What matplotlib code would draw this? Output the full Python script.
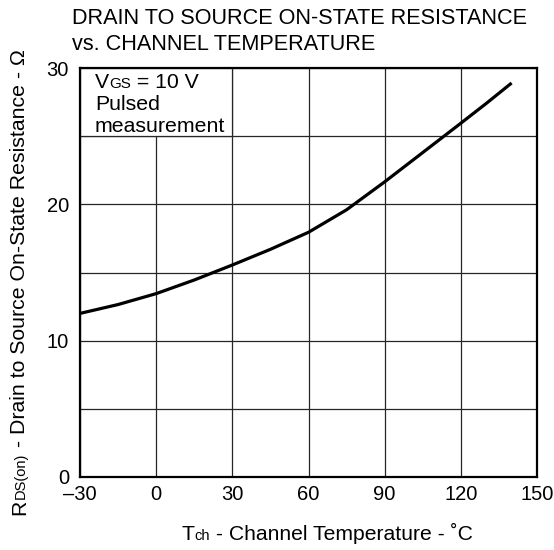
import matplotlib
matplotlib.use("Agg")
import matplotlib.pyplot as plt
from matplotlib.patches import Rectangle

plt.rcParams["font.family"] = ["Liberation Sans", "DejaVu Sans"]

# datos
temp_ch = [-30, -15, 0, 15, 30, 45, 60, 75, 90, 105, 120, 130, 140]
r_on = [12.0, 12.65, 13.45, 14.45, 15.55, 16.7, 17.95, 19.6, 21.65, 23.8, 25.95, 27.4, 28.9]
x_ticks = [-30, 0, 30, 60, 90, 120, 150]
x_tick_labels = ["\u201330", "0", "30", "60", "90", "120", "150"]
y_ticks = [0, 10, 20, 30]
y_minor = [5, 15, 25]

W, H = 554, 550
fig = plt.figure(figsize=(W / 100, H / 100), dpi=100)
ax = fig.add_axes([80 / W, 73 / H, 457 / W, 409 / H])

ax.plot(temp_ch, r_on, color="black", lw=2.3, zorder=3, solid_capstyle="butt")
ax.set_xlim(-30, 150)
ax.set_ylim(0, 30)
ax.set_xticks(x_ticks)
ax.set_xticklabels(x_tick_labels)
ax.set_yticks(y_ticks)
ax.set_yticks(y_minor, minor=True)
ax.tick_params(which="both", length=0, labelsize=14.5)
ax.tick_params(axis="x", pad=6)
ax.tick_params(axis="y", pad=8)
ax.set_axisbelow(True)
ax.grid(True, which="both", color="0.15", lw=0.9)
for s in ax.spines.values():
    s.set_linewidth(1.6)
    s.set_zorder(4)

# caja del texto (tapa la rejilla)
ax.add_patch(Rectangle((-30, 25), 60, 5, facecolor="white", edgecolor="0.15",
                       lw=0.9, zorder=1))

renderer = fig.canvas.get_renderer()


def ancho(s, fs):
    t = fig.text(0, 0, s, fontsize=fs)
    w = t.get_window_extent(renderer).width
    t.remove()
    return w


def piezas(x, y, partes, rot=0, centro=False):
    # x, y en pixeles; partes = [(texto, tamano), ...]
    total = sum(ancho(s, fs) for s, fs in partes)
    pos = (y if rot else x) - (total / 2 if centro else 0)
    for s, fs in partes:
        if rot:
            fig.text(x / W, pos / H, s, fontsize=fs, rotation=90,
                     rotation_mode="anchor", ha="left", va="baseline")
        else:
            fig.text(pos / W, y / H, s, fontsize=fs, ha="left", va="baseline")
        pos += ancho(s, fs)


# titulo
fig.text(72 / W, (H - 24) / H, "DRAIN TO SOURCE ON-STATE RESISTANCE", fontsize=15.6,
         ha="left", va="baseline")
fig.text(72 / W, (H - 50) / H, "vs. CHANNEL TEMPERATURE", fontsize=15.6,
         ha="left", va="baseline")

# texto dentro de la caja
piezas(95, H - 88, [("V", 15.3), ("GS", 11), (" = 10 V", 15.3)])
fig.text(95 / W, (H - 110) / H, "Pulsed", fontsize=15.3, ha="left", va="baseline")
fig.text(95 / W, (H - 132) / H, "measurement", fontsize=15.3, ha="left", va="baseline")

# etiquetas de ejes
piezas(327, H - 540, [("T", 15.2), ("ch", 10.5), (" - Channel Temperature - \u02daC", 15.2)],
       centro=True)
piezas(25, H - 282, [("R", 15.3), ("DS(on)", 10.5),
                     (" - Drain to Source On-State Resistance - \u03a9", 15.3)],
       rot=90, centro=True)

fig.savefig("out.png", dpi=100)
